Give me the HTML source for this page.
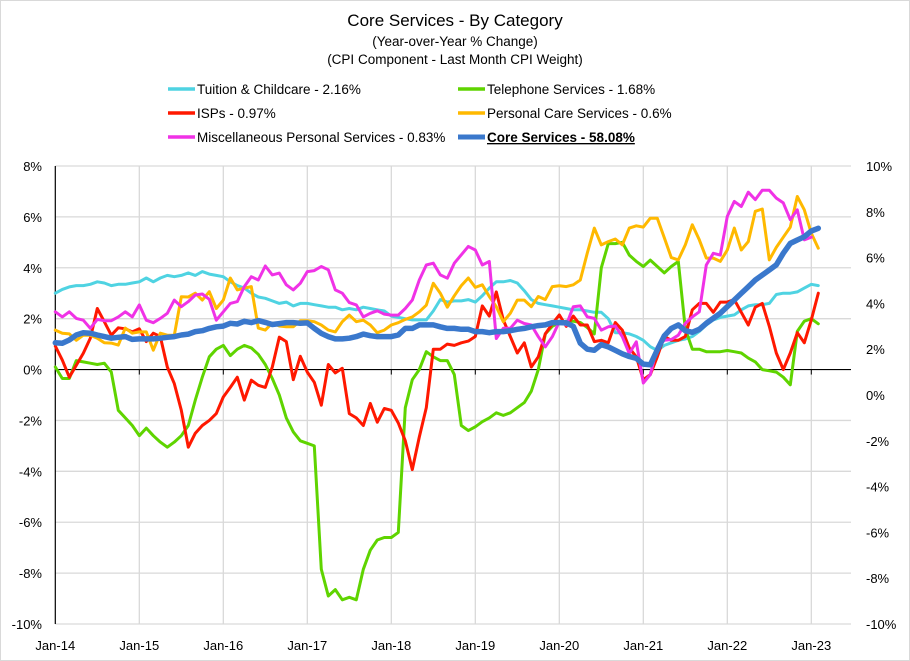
<!DOCTYPE html>
<html><head><meta charset="utf-8"><style>
body{margin:0;background:#fff;}
#wrap{position:relative;width:910px;height:661px;overflow:hidden;font-family:"Liberation Sans",sans-serif;}
svg text{font-family:"Liberation Sans",sans-serif;}
</style></head><body>
<div id="wrap">
<svg id="chart" width="910" height="661" viewBox="0 0 910 661" xmlns="http://www.w3.org/2000/svg">
<rect x="0.5" y="0.5" width="909" height="660" fill="#fff" stroke="#d9d9d9"/>
<g text-anchor="middle" fill="#000">
<text x="455" y="26" font-size="17">Core Services  - By Category</text>
<text x="455" y="46" font-size="13.5">(Year-over-Year % Change)</text>
<text x="455" y="64" font-size="13.5">(CPI Component - Last Month CPI Weight)</text>
</g>
<g id="legend" font-size="13.5"></g>
<g id="grid"></g>
<g id="axes"></g>
<g id="series"></g>
</svg>
</div>
<script>
const startYear = 2014;
const xTickLabels = ["Jan-14","Jan-15","Jan-16","Jan-17","Jan-18","Jan-19","Jan-20","Jan-21","Jan-22","Jan-23"];
const leftTicks = [8,6,4,2,0,-2,-4,-6,-8,-10];
const rightTicks = [10,8,6,4,2,0,-2,-4,-6,-8,-10];

const tuition = [3.0,3.15,3.25,3.3,3.3,3.35,3.45,3.4,3.3,3.35,3.35,3.4,
3.45,3.6,3.45,3.6,3.7,3.65,3.7,3.8,3.7,3.85,3.75,3.7,
3.65,3.45,3.3,3.2,3.0,2.85,2.8,2.7,2.6,2.65,2.5,2.6,
2.6,2.55,2.5,2.45,2.45,2.35,2.4,2.35,2.45,2.4,2.35,2.3,
2.1,2.05,2.0,1.95,1.95,1.95,2.3,2.75,2.65,2.7,2.7,2.75,
2.65,2.9,3.2,3.45,3.45,3.5,3.4,3.1,2.75,2.6,2.55,2.5,
2.45,2.4,2.35,2.35,2.3,2.25,2.25,2.0,1.45,1.45,1.4,1.3,
1.15,0.9,0.75,0.95,1.05,1.15,1.2,1.3,1.5,1.75,1.95,2.05,
2.1,2.15,2.35,2.5,2.55,2.55,2.6,2.95,3.0,3.0,3.05,3.2,
3.35,3.3];
const telephone = [0.1,-0.35,-0.35,0.35,0.3,0.25,0.2,0.25,-0.1,-1.6,-1.9,-2.2,
-2.6,-2.3,-2.6,-2.85,-3.05,-2.85,-2.6,-2.2,-1.2,-0.3,0.5,0.8,
0.95,0.55,0.8,0.95,0.85,0.6,0.2,-0.35,-1.0,-1.9,-2.45,-2.8,
-2.9,-3.0,-7.85,-8.9,-8.65,-9.05,-8.95,-9.05,-7.85,-7.1,-6.7,-6.6,
-6.6,-6.4,-1.5,-0.4,0.0,0.7,0.5,0.35,0.35,-0.2,-2.2,-2.4,
-2.25,-2.05,-1.9,-1.7,-1.8,-1.7,-1.5,-1.3,-0.85,0.0,1.4,1.7,
1.85,1.9,1.9,1.85,1.65,1.4,4.0,4.95,4.95,5.0,4.5,4.25,
4.05,4.3,4.05,3.8,4.05,4.25,1.6,0.8,0.8,0.7,0.7,0.7,
0.75,0.7,0.65,0.45,0.3,0.0,-0.05,-0.1,-0.3,-0.6,1.5,1.9,
2.0,1.8];
const isps = [0.92,0.37,-0.3,0.17,0.64,1.23,2.4,1.88,1.35,1.64,1.6,1.48,
1.6,1.1,1.43,1.3,0.1,-0.55,-1.6,-3.05,-2.5,-2.2,-2.0,-1.73,
-1.08,-0.7,-0.3,-1.2,-0.42,-0.62,-0.7,0.1,1.27,1.1,-0.4,0.52,
-0.1,-0.5,-1.4,0.2,-0.13,0.05,-1.73,-1.9,-2.2,-1.33,-2.07,-1.53,
-1.6,-2.1,-2.8,-3.93,-2.65,-1.5,0.8,0.8,1.0,0.95,1.05,1.12,
1.3,2.5,2.1,3.05,1.95,1.3,0.65,1.05,0.1,0.5,1.4,1.8,
2.15,1.7,2.1,1.75,1.75,1.1,1.15,1.05,1.85,1.55,0.85,0.5,
-0.4,-0.2,0.5,1.3,1.15,1.15,1.3,2.35,2.6,2.6,2.25,2.65,
2.65,2.75,2.25,1.75,2.45,2.6,1.7,0.65,0.0,0.65,1.45,1.05,
1.95,3.0];
const personalCare = [1.55,1.43,1.4,1.15,1.35,1.35,1.23,1.05,1.04,0.96,1.63,1.43,
1.48,1.48,0.76,1.43,1.35,1.35,2.86,2.85,3.0,2.73,3.06,2.4,
2.73,3.6,3.13,3.2,3.26,1.63,1.55,1.83,1.71,1.68,1.68,1.92,
1.92,1.88,1.75,1.55,1.48,1.88,2.14,1.88,1.94,1.75,1.45,1.55,
1.75,1.84,1.97,2.07,2.27,2.53,3.39,3.0,2.45,2.9,3.3,3.6,
3.23,3.33,2.87,2.47,1.88,2.21,2.73,2.73,2.47,2.87,2.75,3.26,
3.29,3.26,3.33,3.52,4.58,5.56,4.9,5.03,5.13,4.9,5.56,5.65,
5.6,5.95,5.95,5.18,4.4,4.31,4.9,5.69,5.1,4.38,4.38,4.25,
4.7,5.56,4.7,5.03,6.22,6.31,4.31,4.8,5.2,5.6,6.8,6.28,
5.36,4.77];
const miscPersonal = [2.27,2.07,2.27,2.01,1.94,1.62,1.97,1.92,1.92,2.07,2.27,2.07,
2.54,1.94,1.84,2.01,2.21,2.73,2.47,2.67,2.93,2.97,2.76,1.94,
2.27,2.6,2.67,3.26,3.65,3.52,4.07,3.72,3.79,3.33,3.13,3.39,
3.85,3.89,4.05,3.92,3.13,3.0,2.63,2.54,2.07,2.21,2.31,2.18,
2.14,2.14,2.4,2.73,3.52,4.11,4.18,3.72,3.59,4.18,4.51,4.84,
4.7,4.11,4.25,1.22,1.62,1.62,1.94,1.81,1.75,1.29,0.89,1.29,
1.88,1.75,2.47,2.5,2.07,2.01,1.55,1.68,1.71,1.29,0.63,1.09,
-0.53,-0.2,0.89,1.15,1.18,1.35,1.81,2.07,2.27,4.11,4.57,4.5,
6.02,6.61,6.41,6.97,6.68,7.05,7.05,6.74,6.55,5.89,6.28,5.1,
5.2,null];
const coreServices = [2.28,2.26,2.4,2.62,2.72,2.7,2.62,2.55,2.48,2.52,2.55,2.43,
2.45,2.45,2.45,2.48,2.52,2.55,2.62,2.66,2.77,2.81,2.91,2.98,
3.01,3.13,3.1,3.22,3.16,3.25,3.17,3.08,3.12,3.16,3.16,3.13,
3.15,2.91,2.69,2.55,2.45,2.45,2.48,2.55,2.66,2.59,2.55,2.55,
2.55,2.62,2.91,2.91,3.06,3.06,3.06,2.98,2.91,2.91,2.87,2.87,
2.77,2.77,2.72,2.77,2.77,2.81,2.87,2.91,2.98,3.03,3.06,3.16,
3.16,3.15,3.0,2.26,2.0,1.95,2.2,2.1,1.95,1.8,1.68,1.6,
1.35,1.32,1.97,2.58,2.91,3.06,2.81,2.74,2.87,3.13,3.35,3.57,
3.86,4.15,4.44,4.73,5.02,5.24,5.46,5.68,6.19,6.62,6.77,6.91,
7.16,7.28];

const NS = "http://www.w3.org/2000/svg";
const X0 = 55.3, DX = 7.0;
const LTOP = 166, LBOT = 624;
function xScale(m){ return X0 + DX*m; }
function yLeft(v){ return LTOP + (8 - v) * (LBOT-LTOP)/18; }
function yRight(v){ return LTOP + (10 - v) * (LBOT-LTOP)/20; }
function mk(tag, attrs, parent){ const e=document.createElementNS(NS,tag); for(const k in attrs) e.setAttribute(k,attrs[k]); parent.appendChild(e); return e; }

const grid=document.getElementById('grid'), axes=document.getElementById('axes'), ser=document.getElementById('series'), leg=document.getElementById('legend');

leftTicks.forEach(v=>{
  const y=yLeft(v);
  if(v!==0){ const l=mk('line',{x1:X0,x2:851,y1:y,y2:y,stroke:'#d9d9d9','stroke-width':1.3},grid);
  
   }
  const t=mk('text',{x:42,y:y+5,'text-anchor':'end','font-size':13,fill:'#000'},axes);
  t.textContent=v+'%';
  
  
});
rightTicks.forEach(v=>{
  const y=yRight(v);
  const t=mk('text',{x:866,y:y+5,'text-anchor':'start','font-size':13,fill:'#000'},axes);
  t.textContent=v+'%';
  
  
});
xTickLabels.forEach((lab,i)=>{
  const x=xScale(i*12);
  if(i>0){ const l=mk('line',{x1:x,x2:x,y1:LTOP,y2:LBOT,stroke:'#d9d9d9','stroke-width':1.3},grid);
  
   }
  const tk=mk('line',{x1:x,x2:x,y1:yLeft(0),y2:yLeft(0)+5,stroke:'#000','stroke-width':1},axes);
  
  
  const t=mk('text',{x:x,y:650,'text-anchor':'middle','font-size':13,fill:'#000'},axes);
  t.textContent=lab;
  
  
});
const zl=mk('line',{x1:X0,x2:851,y1:yLeft(0),y2:yLeft(0),stroke:'#000','stroke-width':1.2},axes);


const yl=mk('line',{x1:X0,x2:X0,y1:LTOP,y2:LBOT,stroke:'#000','stroke-width':1.2},axes);



function draw(arr, ys, color, w, name){
  let d='', pen=false;
  arr.forEach((v,m)=>{ if(v===null){pen=false;return;} d+=(pen?'L':'M')+xScale(m).toFixed(1)+','+ys(v).toFixed(1); pen=true; });
  const p=mk('path',{d:d,fill:'none',stroke:color,'stroke-width':w,'stroke-linejoin':'round','stroke-linecap':'round'},ser);
  
  
}
draw(tuition,yLeft,'#4fd3e2',3,'tuition-line');
draw(telephone,yLeft,'#5fd400',3,'telephone-line');
draw(isps,yLeft,'#ff1800',3,'isps-line');
draw(personalCare,yLeft,'#ffb900',3,'personal-care-line');
draw(miscPersonal,yLeft,'#f032e6',3,'misc-personal-line');
draw(coreServices,yRight,'#3a78cc',5.5,'core-services-line');

const legendItems=[
 ['Tuition & Childcare - 2.16%','#4fd3e2',168,89,false,'legend-tuition'],
 ['Telephone Services - 1.68%','#5fd400',458,89,false,'legend-telephone'],
 ['ISPs - 0.97%','#ff1800',168,113,false,'legend-isps'],
 ['Personal Care Services - 0.6%','#ffb900',458,113,false,'legend-personal-care'],
 ['Miscellaneous Personal Services - 0.83%','#f032e6',168,137,false,'legend-misc-personal'],
 ['Core Services - 58.08%','#3a78cc',458,137,true,'legend-core-services']
];
legendItems.forEach(it=>{
  const g=mk('g',{},leg);
  
  
  mk('line',{x1:it[2],x2:it[2]+27,y1:it[3],y2:it[3],stroke:it[1],'stroke-width':it[4]?5:3.5},g);
  const t=mk('text',{x:it[2]+29,y:it[3]+5,'font-size':13.5,fill:'#000','font-weight':it[4]?'bold':'normal','text-decoration':it[4]?'underline':'none'},g);
  t.textContent=it[0];
});
</script>
</body></html>
